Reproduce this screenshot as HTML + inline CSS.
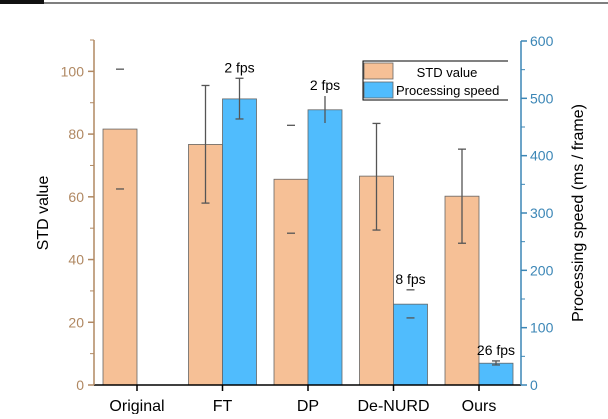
<!DOCTYPE html>
<html><head><meta charset="utf-8"><style>
body{margin:0;background:#fff;width:608px;height:414px;overflow:hidden;font-family:"Liberation Sans",sans-serif}
</style></head><body>
<svg id="c" width="608" height="414" xmlns="http://www.w3.org/2000/svg" font-family="Liberation Sans, sans-serif"></svg>
<script>
const categories=["Original","FT","DP","De-NURD","Ours"];
const stdValues=[81.6,76.7,65.6,66.6,60.2];
const stdErrHigh=[100.7,95.5,82.8,83.4,75.2];
const stdErrLow=[62.5,58,48.4,49.4,45.2];
const speedValues=[null,499,480,141,38];
const speedErrHigh=[null,535,504,166,42];
const speedErrLow=[null,464,457,117,35];
const fpsLabels=[null,"2 fps","2 fps","8 fps","26 fps"];
const leftTicks=[0,20,40,60,80,100];
const rightTicks=[0,100,200,300,400,500,600];

const svg=document.getElementById('c');
const NS="http://www.w3.org/2000/svg";
function mk(t,a,txt){const e=document.createElementNS(NS,t);for(const k in a)e.setAttribute(k,a[k]);if(txt!=null)e.textContent=txt;svg.appendChild(e);return e;}
const X0=94,X1=521,Y0=385,YT=40;
const yL=v=>Y0-v*(Y0-YT)/110;
const yR=v=>Y0-v*(Y0-41)/600;
const groupX=i=>137+i*85.5;
const BW=34;
const LC="#b08862",RC="#3b86b6";

let e;
e=mk('rect',{x:0,y:0,width:44,height:4,fill:'#111'});


e=mk('line',{x1:44,y1:3,x2:608,y2:3,stroke:'#555','stroke-width':1.5});



categories.forEach((c,i)=>{
  const gx=groupX(i);
  e=mk('rect',{x:gx-BW,y:yL(stdValues[i]),width:BW,height:Y0-yL(stdValues[i]),fill:'#f6c096',stroke:'#666','stroke-width':0.8});
  
  
  const ex=gx-BW/2;
  if(i!==0&&i!==2){
    e=mk('line',{x1:ex,y1:yL(stdErrHigh[i]),x2:ex,y2:yL(stdErrLow[i]),stroke:'#555','stroke-width':1.3});
    
    
  }
  [stdErrHigh[i],stdErrLow[i]].forEach(v=>{
    e=mk('line',{x1:ex-4,y1:yL(v),x2:ex+4,y2:yL(v),stroke:'#555','stroke-width':1.3});
    
    
  });
  if(speedValues[i]!=null){
    e=mk('rect',{x:gx,y:yR(speedValues[i]),width:BW,height:Y0-yR(speedValues[i]),fill:'#50bcfd',stroke:'#666','stroke-width':0.8});
    
    
    const bx=gx+BW/2;
    if(i!==3){
      e=mk('line',{x1:bx,y1:yR(speedErrHigh[i]),x2:bx,y2:yR(speedErrLow[i]),stroke:'#555','stroke-width':1.3});
      
      
    }
    if(i!==2){
      [speedErrHigh[i],speedErrLow[i]].forEach(v=>{
        e=mk('line',{x1:bx-4,y1:yR(v),x2:bx+4,y2:yR(v),stroke:'#555','stroke-width':1.3});
        
        
      });
    }
    e=mk('text',{x:bx,y:yR(speedErrHigh[i])-6,'text-anchor':'middle','font-size':14,fill:'#000'},fpsLabels[i]);
    
    
  }
  e=mk('line',{x1:gx,y1:Y0,x2:gx,y2:Y0+6,stroke:'#000','stroke-width':1.5});
  
  
  e=mk('text',{x:gx,y:411,'text-anchor':'middle','font-size':16,fill:'#000'},c);
  
  
});

e=mk('line',{x1:X0,y1:Y0,x2:X1,y2:Y0,stroke:'#000','stroke-width':1.5});


e=mk('line',{x1:X0,y1:Y0,x2:X0,y2:YT,stroke:LC,'stroke-width':1.5});


e=mk('line',{x1:X1,y1:Y0,x2:X1,y2:41,stroke:RC,'stroke-width':1.5});


for(let v=10;v<=110;v+=20){
  e=mk('line',{x1:X0-4,y1:yL(v),x2:X0,y2:yL(v),stroke:LC,'stroke-width':1});
  
  
}
leftTicks.forEach(v=>{
  e=mk('line',{x1:X0-6,y1:yL(v),x2:X0,y2:yL(v),stroke:LC,'stroke-width':1.5});
  
  
  e=mk('text',{x:X0-10,y:yL(v)+5,'text-anchor':'end','font-size':14,fill:LC},v);
  
  
});
for(let v=50;v<600;v+=100){
  e=mk('line',{x1:X1,y1:yR(v),x2:X1+4,y2:yR(v),stroke:RC,'stroke-width':1});
  
  
}
rightTicks.forEach(v=>{
  e=mk('line',{x1:X1,y1:yR(v),x2:X1+6,y2:yR(v),stroke:RC,'stroke-width':1.5});
  
  
  e=mk('text',{x:X1+9,y:yR(v)+5,'text-anchor':'start','font-size':14,fill:RC},v);
  
  
});
e=mk('text',{x:0,y:0,transform:'translate(48,213) rotate(-90)','text-anchor':'middle','font-size':16,fill:'#000'},'STD value');


e=mk('text',{x:0,y:0,transform:'translate(583,213) rotate(-90)','text-anchor':'middle','font-size':16,fill:'#000'},'Processing speed (ms / frame)');



e=mk('path',{d:'M508,61 H363 V100 H508',fill:'#fff',stroke:'#000','stroke-width':1});


e=mk('rect',{x:364,y:63,width:29,height:16,fill:'#f6c096',stroke:'#666','stroke-width':0.8});


e=mk('text',{x:447,y:77,'text-anchor':'middle','font-size':13,fill:'#000'},'STD value');


e=mk('rect',{x:364,y:82,width:29,height:16,fill:'#50bcfd',stroke:'#666','stroke-width':0.8});


e=mk('text',{x:396,y:95,'font-size':13,fill:'#000'},'Processing speed');


</script>
</body></html>
